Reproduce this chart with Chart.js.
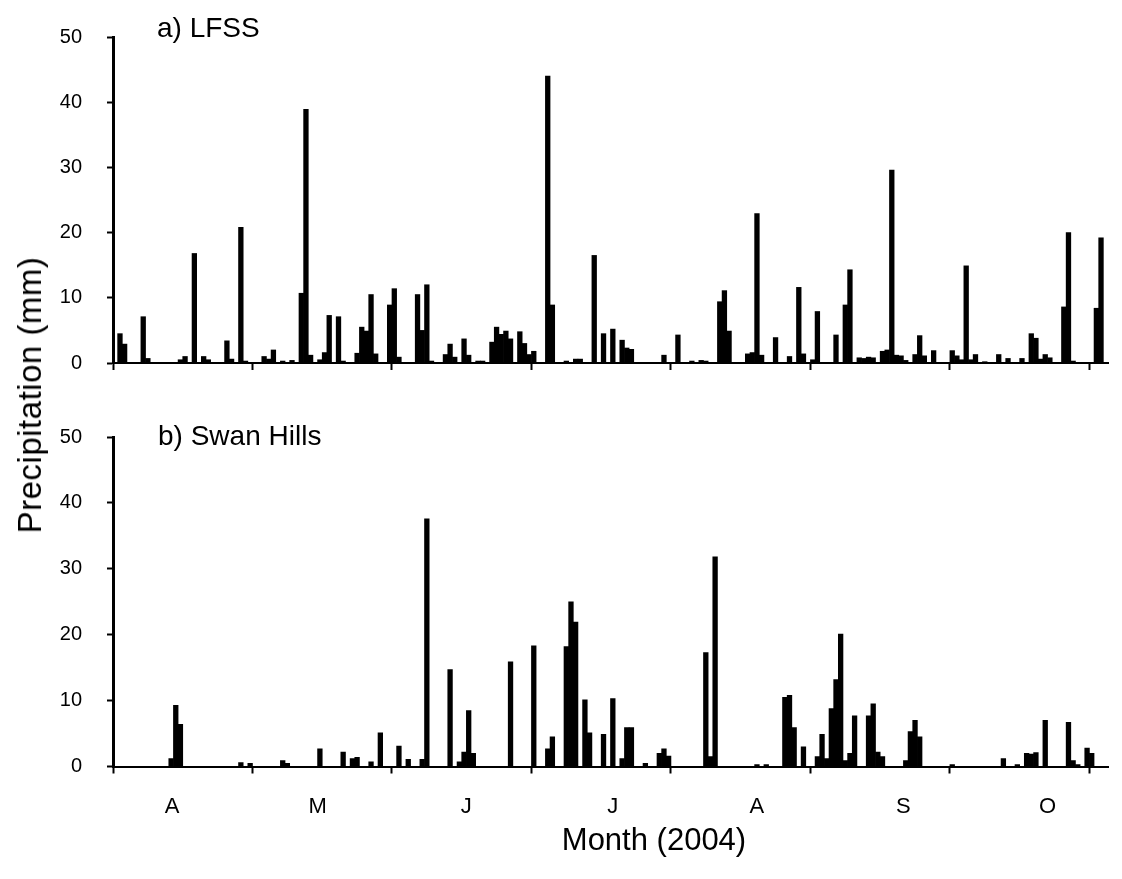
<!DOCTYPE html>
<html>
<head>
<meta charset="utf-8">
<script src="https://cdn.jsdelivr.net/npm/chart.js@4"></script>
<style>
  html, body { margin: 0; padding: 0; background: #fff; }
  #wrap { position: relative; width: 1122px; height: 879px; overflow: hidden; }
  #topBox { position: absolute; left: 0; top: 0; width: 1122px; height: 400px; }
  #botBox { position: absolute; left: 0; top: 400px; width: 1122px; height: 479px; }
  .axisTitle {
    position: absolute; font-family: 'Liberation Sans', Arial, sans-serif;
    color: #000; white-space: nowrap;
  }
  #ytitle {
    left: 30px; top: 395px; font-size: 33px; letter-spacing: 0.5px;
    transform: translate(-50%, -50%) rotate(-90deg);
  }
  #xtitle {
    left: 654px; top: 840px; font-size: 31px;
    transform: translate(-50%, -50%);
  }
</style>
</head>
<body>
<div id="wrap">
  <div id="topBox"><canvas id="lfssChart"></canvas></div>
  <div id="botBox"><canvas id="swanChart"></canvas></div>
  <div id="ytitle" class="axisTitle">Precipitation (mm)</div>
  <div id="xtitle" class="axisTitle">Month (2004)</div>
</div>
<script>
// day index counted from 1 April 2004 (0 = Apr 1), daily precipitation in mm
const lfssDays = [1, 2, 6, 7, 14, 15, 17, 19, 20, 24, 25, 27, 28, 32, 33, 34, 36, 38, 40, 41, 42, 44, 45, 46, 48, 49,
  52, 53, 54, 55, 56, 59, 60, 61, 65, 66, 67, 68, 71, 72, 73, 75, 76, 78, 79, 81, 82, 83, 84, 85, 87, 88, 89, 90,
  93, 94, 97, 99, 100, 103, 105, 107, 109, 110, 111, 118, 121, 124, 126, 127, 130, 131, 132, 136, 137, 138, 139,
  142, 145, 147, 148, 150, 151, 155, 157, 158, 160, 161, 162, 163, 165, 166, 167, 168, 169, 170, 172, 173, 174,
  176, 180, 181, 182, 183, 184, 185, 187, 190, 192, 195, 197, 198, 199, 200, 201, 204, 205, 206, 211, 212];
const lfssMm = [4.5, 2.9, 7.1, 0.7, 0.5, 1.0, 16.8, 1.0, 0.5, 3.4, 0.6, 20.8, 0.3, 1.0, 0.6, 2.0, 0.3, 0.4, 10.7, 38.9, 1.2, 0.5, 1.6, 7.3, 7.1, 0.3,
  1.5, 5.5, 4.9, 10.5, 1.4, 8.9, 11.4, 0.9, 10.5, 5.0, 12.0, 0.3, 1.3, 2.9, 0.9, 3.7, 1.2, 0.3, 0.3, 3.2, 5.5, 4.4, 4.9, 3.7, 4.8, 3.0, 1.3, 1.8,
  44.0, 8.9, 0.3, 0.6, 0.6, 16.5, 4.5, 5.2, 3.5, 2.3, 2.1, 1.2, 4.3, 0.3, 0.4, 0.3, 9.4, 11.1, 4.9, 1.4, 1.6, 22.9, 1.2,
  3.9, 1.0, 11.6, 1.4, 0.5, 7.9, 4.3, 8.9, 14.3, 0.8, 0.7, 0.9, 0.8, 1.8, 2.0, 29.6, 1.2, 1.1, 0.4, 1.3, 4.2, 1.1,
  1.9, 1.9, 1.1, 0.5, 14.9, 0.5, 1.3, 0.2, 1.3, 0.7, 0.7, 4.5, 3.8, 0.6, 1.3, 0.8, 8.6, 20.0, 0.3, 8.4, 19.2];

const swanDays = [12, 13, 14, 27, 29, 36, 37, 44, 49, 51, 52, 55, 57, 61, 63, 66, 67, 72, 74, 75, 76, 77, 85, 90,
  93, 94, 97, 98, 99, 101, 102, 105, 107, 109, 110, 111, 114, 117, 118, 119, 127, 128, 129, 138, 140, 144, 145, 146,
  148, 151, 152, 153, 154, 155, 156, 157, 158, 159, 162, 163, 164, 165, 170, 171, 172, 173, 180, 191, 194, 196, 197,
  198, 200, 205, 206, 207, 209, 210];
const swanMm = [1.2, 9.3, 6.4, 0.6, 0.5, 0.9, 0.5, 2.7, 2.2, 1.2, 1.4, 0.7, 5.1, 3.1, 1.1, 1.1, 37.6, 14.7, 0.7, 2.2, 8.5, 2.0, 15.9, 18.3,
  2.7, 4.5, 18.2, 25.0, 21.9, 10.1, 5.1, 4.9, 10.3, 1.2, 5.9, 5.9, 0.5, 2.0, 2.7, 1.6, 17.3, 1.5, 31.8, 0.3, 0.3, 10.5, 10.8, 5.9,
  3.0, 1.5, 4.9, 1.2, 8.8, 13.2, 20.1, 0.9, 2.0, 7.7, 7.7, 9.5, 2.2, 1.5, 0.9, 5.3, 7.0, 4.5, 0.3, 1.2, 0.3, 2.0, 1.9,
  2.1, 7.0, 6.7, 0.9, 0.3, 2.8, 2.0];

const seasonLength = 214;                      // Apr 1 .. Oct 31
const monthTickDays = [0, 30, 60, 90, 120, 150, 180, 210];
const monthLabelDays = [12.7, 44, 76, 107.5, 138.5, 170, 201];
const monthLabels = ['A', 'M', 'J', 'J', 'A', 'S', 'O'];
const yTicks = [0, 10, 20, 30, 40, 50];

const FONT = "'Liberation Sans', Arial, sans-serif";

// draws the "a) LFSS" style label inside each panel
const panelLabel = {
    id: 'panelLabel',
    afterDraw(chart, args, opts) {
        const ctx = chart.ctx;
        ctx.save();
        ctx.font = '28px ' + FONT;
        ctx.fillStyle = '#000';
        ctx.textBaseline = 'alphabetic';
        ctx.fillText(opts.text, opts.x, opts.y);
        ctx.restore();
    }
};

function makeChart(canvasId, days, mm, label, opts) {
    const labelSet = new Set(monthLabelDays);
    const points = days.map((d, i) => ({ x: d + 0.5, y: mm[i] }));

    return new Chart(document.getElementById(canvasId), {
        type: 'bar',
        data: {
            datasets: [{
                data: points,
                backgroundColor: '#000',
                borderWidth: 0,
                barPercentage: 1,
                categoryPercentage: 1
            }]
        },
        plugins: [panelLabel],
        options: {
            responsive: true,
            maintainAspectRatio: false,
            animation: false,
            layout: { padding: { left: 0, right: 14, top: opts.padTop, bottom: 0 } },
            plugins: {
                legend: { display: false },
                tooltip: { enabled: false },
                panelLabel: { text: label, x: opts.labelX, y: opts.labelY }
            },
            scales: {
                x: {
                    type: 'linear',
                    min: 0,
                    max: seasonLength,
                    offset: false,
                    afterBuildTicks: (scale) => {
                        let vals = monthTickDays.slice();
                        if (opts.showMonths) vals = vals.concat(monthLabelDays);
                        vals.sort((a, b) => a - b);
                        scale.ticks = vals.map(v => ({ value: v }));
                    },
                    ticks: {
                        autoSkip: false,
                        maxRotation: 0,
                        padding: 20,
                        color: '#000',
                        font: { family: FONT, size: 22 },
                        callback: (value) => {
                            const i = monthLabelDays.indexOf(value);
                            return (opts.showMonths && i >= 0) ? monthLabels[i] : '';
                        }
                    },
                    grid: {
                        offset: false,
                        drawOnChartArea: false,
                        drawTicks: true,
                        tickLength: 7,
                        tickWidth: 2,
                        tickColor: (ctx) => (ctx.tick && labelSet.has(ctx.tick.value)) ? 'rgba(0,0,0,0)' : '#000'
                    },
                    border: { display: true, color: '#000', width: 2 },
                    afterFit: (scale) => { scale.height = opts.xHeight; }
                },
                y: {
                    min: 0,
                    max: 50,
                    afterBuildTicks: (scale) => { scale.ticks = yTicks.map(v => ({ value: v })); },
                    ticks: {
                        padding: 25,
                        color: '#000',
                        font: { family: FONT, size: 20 }
                    },
                    grid: {
                        drawOnChartArea: false,
                        drawTicks: true,
                        tickLength: 6,
                        tickWidth: 2,
                        tickColor: '#000'
                    },
                    border: { display: true, color: '#000', width: 3 },
                    afterFit: (scale) => { scale.width = 113; }
                }
            }
        }
    });
}

makeChart('lfssChart', lfssDays, lfssMm, 'a) LFSS',
    { padTop: 18.5, xHeight: 30.5, showMonths: false, labelX: 157, labelY: 37 });
makeChart('swanChart', swanDays, swanMm, 'b) Swan Hills',
    { padTop: 16.5, xHeight: 112.5, showMonths: true, labelX: 158, labelY: 45 });
</script>
</body>
</html>
